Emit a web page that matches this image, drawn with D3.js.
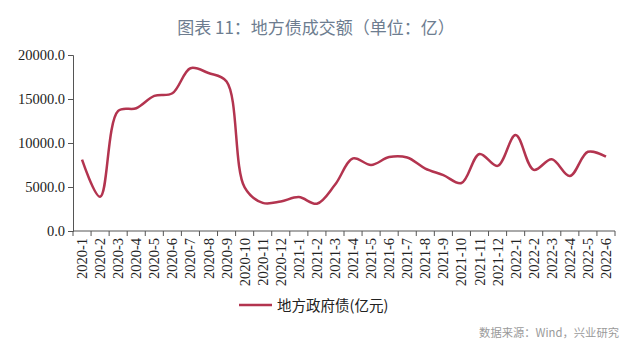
<!DOCTYPE html>
<html>
<head>
<meta charset="utf-8">
<script src="https://cdn.jsdelivr.net/npm/d3@7"></script>
<style>
  html, body { margin: 0; padding: 0; background: #fff; }
  svg { display: block; }
</style>
</head>
<body>
<svg id="chart" width="640" height="348"></svg>
<script>
// Monthly turnover of local government bonds, 2020-01 to 2022-06 (亿元)
const months = [
  "2020-1","2020-2","2020-3","2020-4","2020-5","2020-6","2020-7","2020-8","2020-9","2020-10",
  "2020-11","2020-12","2021-1","2021-2","2021-3","2021-4","2021-5","2021-6","2021-7","2021-8",
  "2021-9","2021-10","2021-11","2021-12","2022-1","2022-2","2022-3","2022-4","2022-5","2022-6"
];
const localBond = [
  8100, 3900, 13650, 13950, 15350, 15650, 18500, 17950, 17000, 4950,
  3200, 3350, 3850, 3100, 5250, 8250, 7500, 8400, 8350, 7100,
  6350, 5450, 8750, 7400, 10900, 6950, 8150, 6250, 9000, 8450
];
const yTicks = [0, 5000, 10000, 15000, 20000];
const titleText = "图表 11：地方债成交额（单位：亿）";
const seriesName = "地方政府债(亿元)";
const sourceText = "数据来源：Wind，兴业研究";

const svg = d3.select("#chart");
const m = { left: 73, right: 615, top: 55, bottom: 231 };

const x = d3.scaleBand().domain(months).range([m.left, m.right]).padding(0);
const y = d3.scaleLinear().domain([0, 20000]).range([m.bottom, m.top]);

const axisColor = "#555";
const lineColor = "#b3344f";
const serif = "'Liberation Serif', 'Times New Roman', serif";
const cjk = "'Noto Sans CJK SC', sans-serif";

// Title
svg.append("text")
  .attr("x", 316).attr("y", 34)
  .attr("text-anchor", "middle")
  .attr("font-family", cjk)
  .attr("font-size", 17)
  .attr("fill", "#6d7d90")
  .text(titleText);

// Y axis
const yAxis = svg.append("g")
  .attr("transform", `translate(${m.left},0)`)
  .call(d3.axisLeft(y).tickValues(yTicks).tickFormat(d3.format(".1f")).tickSize(5).tickPadding(3));
yAxis.select(".domain").attr("stroke", axisColor);
yAxis.selectAll(".tick line").attr("stroke", axisColor);
yAxis.selectAll("text")
  .attr("font-family", serif).attr("font-size", 14.5).attr("fill", "#222");

// X axis: ticks on category boundaries
const xg = svg.append("g").attr("transform", `translate(0,${m.bottom})`);
xg.append("line")
  .attr("x1", m.left).attr("x2", m.right)
  .attr("stroke", axisColor);
const bounds = months.map(d => x(d)).concat([x(months[months.length - 1]) + x.bandwidth()]);
xg.selectAll("line.tk").data(bounds).join("line")
  .attr("class", "tk")
  .attr("x1", d => d).attr("x2", d => d)
  .attr("y1", 0).attr("y2", 5)
  .attr("stroke", axisColor);
xg.selectAll("text").data(months).join("text")
  .attr("transform", d => `translate(${x(d) + x.bandwidth() / 2 + 5},7) rotate(-90)`)
  .attr("text-anchor", "end")
  .attr("font-family", serif)
  .attr("font-size", 14.5)
  .attr("fill", "#222")
  .text(d => d);

// Series line
const line = d3.line()
  .x((d, i) => x(months[i]) + x.bandwidth() / 2)
  .y(d => y(d))
  .curve(d3.curveCatmullRom.alpha(0.5));
svg.append("path")
  .datum(localBond)
  .attr("d", line)
  .attr("fill", "none")
  .attr("stroke", lineColor)
  .attr("stroke-width", 2.5)
  .attr("stroke-linejoin", "round");

// Legend
svg.append("line")
  .attr("x1", 239).attr("x2", 272)
  .attr("y1", 305).attr("y2", 305)
  .attr("stroke", lineColor).attr("stroke-width", 2.5);
svg.append("text")
  .attr("x", 277).attr("y", 311)
  .attr("font-family", cjk)
  .attr("font-size", 14.5)
  .attr("fill", "#222")
  .text(seriesName);

// Source note
svg.append("text")
  .attr("x", 619).attr("y", 337)
  .attr("text-anchor", "end")
  .attr("font-family", cjk)
  .attr("font-size", 11.3)
  .attr("fill", "#9a9a9a")
  .text(sourceText);
</script>
</body>
</html>
